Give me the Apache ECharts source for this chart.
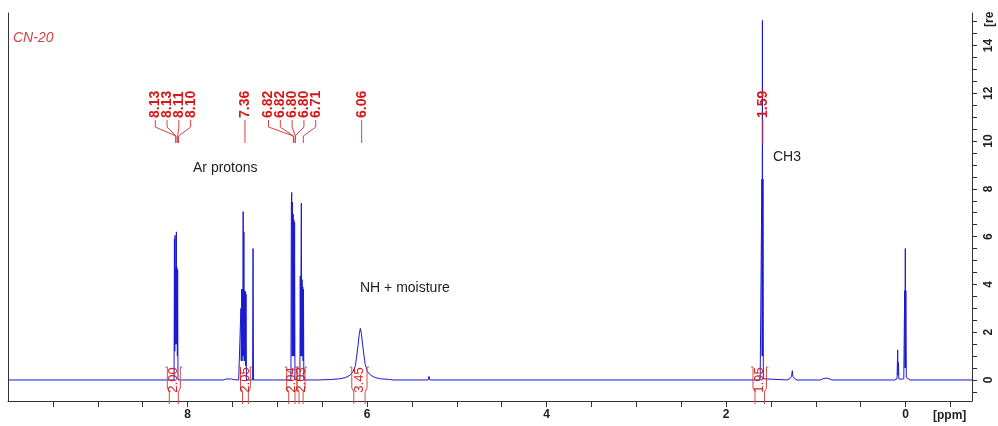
<!DOCTYPE html>
<html><head><meta charset="utf-8">
<script src="https://cdn.jsdelivr.net/npm/echarts@6/dist/echarts.min.js"></script>
<style>html,body{margin:0;padding:0;background:#fff}#c{width:998px;height:426px}</style>
</head><body><div id="c"></div>
<script>
// Spectrum points [ppm, intensity]
const spectrum = [
 [10.0,0],[9.2,0],[8.6,0],[8.37,0],[8.36,0.04],[8.35,0],
 [8.150,0],[8.146,5.9],[8.142,1.2],[8.139,6.05],[8.135,1.5],[8.131,4.7],[8.127,1.5],[8.124,6.2],[8.120,1.5],[8.117,4.7],[8.113,1.0],[8.110,4.6],[8.106,0],
 [7.95,0],[7.94,0.06],[7.93,0],
 [7.6,0],[7.57,0.04],[7.55,0.02],[7.51,0.04],[7.48,0.01],[7.43,0],
 [7.410,0],[7.405,3.0],[7.401,0.8],[7.396,3.8],[7.392,0.8],[7.388,3.8],[7.384,1.0],[7.380,7.05],[7.376,1.0],[7.372,6.2],[7.368,0.8],[7.364,3.75],[7.360,0.8],[7.356,3.7],[7.352,0.6],[7.348,3.6],[7.344,0],
 [7.275,0],[7.27,5.5],[7.265,0],
 [7.17,0],[7.16,0.05],[7.15,0],[7.03,0],[7.02,0.06],[7.01,0],
 [6.848,0],[6.843,7.3],[6.839,7.85],[6.835,1.0],[6.831,7.45],[6.827,1.0],[6.823,6.95],[6.819,1.0],[6.815,6.7],[6.811,1.0],[6.807,6.6],[6.803,0],
 [6.748,0],[6.744,4.35],[6.740,1.0],[6.736,4.3],[6.732,7.4],[6.728,1.0],[6.724,4.2],[6.720,1.0],[6.716,3.9],[6.712,0.8],[6.708,3.8],[6.704,0],
 [6.55,0],[6.48,0.01],[6.47,0.05],[6.46,0.01],
 [6.40,0.02],[6.30,0.05],[6.24,0.1],[6.19,0.2],[6.155,0.35],[6.13,0.6],[6.115,1.0],[6.10,1.45],[6.087,1.9],[6.075,2.16],[6.063,1.95],[6.05,1.5],[6.035,1.05],[6.02,0.65],[5.995,0.35],[5.96,0.2],[5.91,0.1],[5.85,0.05],[5.75,0.02],[5.7,0],
 [5.32,0],[5.31,0.15],[5.30,0],
 [4.18,0],[4.17,0.03],[4.16,0],[3.50,0],[3.49,0.03],[3.48,0],
 [1.62,0],[1.605,0.05],[1.601,8.4],[1.598,1.0],[1.595,15.05],[1.592,1.0],[1.589,8.4],[1.585,0.05],[1.57,0],
 [1.32,0],[1.29,0.05],[1.27,0.15],[1.262,0.39],[1.255,0.15],[1.235,0.05],[1.21,0],
 [0.95,0],[0.92,0.05],[0.90,0.1],[0.885,0.08],[0.87,0.1],[0.85,0.05],[0.82,0],
 [0.12,0],[0.095,0.05],[0.088,1.26],[0.084,0.2],[0.080,0.73],[0.075,0.05],[0.05,0.03],
 [0.02,0.05],[0.010,3.74],[0.006,0.5],[0.003,5.5],[0.0,0.5],[-0.003,3.74],[-0.008,0.1],[-0.02,0.03],[-0.05,0],
 [-0.13,0],[-0.14,0.06],[-0.15,0],[-0.74,0]
];
const peakPpm = [8.13,8.13,8.11,8.10,7.36,6.82,6.82,6.80,6.80,6.71,6.06,1.59];
const peakLabels = ['8.13','8.13','8.11','8.10','7.36','6.82','6.82','6.80','6.80','6.71','6.06','1.59'];
const integralStart = [8.225,7.41,6.895,6.78,6.17,1.70];
const integralEnd = [8.08,7.30,6.78,6.69,6.00,1.55];
const integralValues = ['2.00','2.05','2.04','2.03','3.45','1.95'];
const xTickValues = [-0.5,0,0.5,1,1.5,2,2.5,3,3.5,4,4.5,5,5.5,6,6.5,7,7.5,8,8.5,9,9.5];
const xLabelValues = [0,2,4,6,8];
const yTickValues = [-0.5,0,0.5,1,1.5,2,2.5,3,3.5,4,4.5,5,5.5,6,6.5,7,7.5,8,8.5,9,9.5,10,10.5,11,11.5,12,12.5,13,13.5,14,14.5,15];
const yLabelValues = [0,2,4,6,8,10,12,14];

const FONT = '"Liberation Sans", Arial, sans-serif';
const chart = echarts.init(document.getElementById('c'), null, {renderer:'canvas'});

function layoutLabels(api){
  const px = peakPpm.map(p => api.coord([p,0])[0]);
  const order = px.map((v,i)=>i).sort((a,b)=>px[a]-px[b] || a-b);
  const gap = 11.8;
  const pos = new Array(px.length);
  const groups = [];
  let cur = [order[0]];
  for (let k=1;k<order.length;k++){
    if (px[order[k]]-px[order[k-1]] < gap) cur.push(order[k]); else {groups.push(cur); cur=[order[k]];}
  }
  groups.push(cur);
  groups.forEach(g=>{
    const mean = g.reduce((s,i)=>s+px[i],0)/g.length;
    const shift = g.length > 1 ? -4 : 0;
    g.forEach((i,k)=>{ pos[i] = mean + shift + (k-(g.length-1)/2)*gap; });
  });
  return {px,pos};
}

chart.setOption({
  animation:false,
  backgroundColor:'#ffffff',
  grid:{left:8,right:26,top:13,bottom:25,containLabel:false},
  xAxis:{
    type:'value', inverse:true, min:-0.74, max:10.0,
    axisLine:{show:true,onZero:false,lineStyle:{color:'#333',width:1}},
    axisTick:{show:true,inside:false,length:6,customValues:xTickValues,lineStyle:{color:'#333'}},
    axisLabel:{customValues:xLabelValues,margin:8,color:'#222',fontWeight:'bold',fontSize:12,fontFamily:FONT},
    splitLine:{show:false}
  },
  yAxis:[{
    type:'value', position:'right', min:-0.88, max:15.36,
    axisLine:{show:true,onZero:false,lineStyle:{color:'#333',width:1}},
    axisTick:{show:true,inside:false,length:5,customValues:yTickValues,lineStyle:{color:'#333'}},
    axisLabel:{customValues:yLabelValues,rotate:90,margin:11,color:'#222',fontWeight:'bold',fontSize:12,fontFamily:FONT},
    splitLine:{show:false}
  },{
    type:'value', position:'left', min:-0.88, max:15.36,
    axisLine:{show:true,onZero:false,lineStyle:{color:'#333',width:1}},
    axisTick:{show:false}, axisLabel:{show:false}, splitLine:{show:false}
  }],
  series:[
    {
      type:'line', data:spectrum, yAxisIndex:0, showSymbol:false, symbol:'none', sampling:null,
      lineStyle:{color:'#1a1ad0',width:1}, z:2, silent:true
    },
    {
      type:'custom', yAxisIndex:0, z:5, silent:true,
      data: peakPpm.map((p,i)=>[p,0,i]),
      renderItem:function(params,api){
        const i = params.dataIndex;
        const L = layoutLabels(api);
        const lx = L.pos[i], px = L.px[i];
        return {type:'group',children:[
          {type:'polyline',shape:{points:[[lx,120],[lx,127],[px,136],[px,143]]},style:{stroke:'#d84040',lineWidth:1,fill:null}},
          {type:'text',x:lx,y:118,rotation:Math.PI/2,style:{text:peakLabels[i],fill:'#d81818',font:'bold 14px '+FONT,align:'left',verticalAlign:'middle'}}
        ]};
      }
    },
    {
      type:'custom', yAxisIndex:0, z:4, silent:true,
      data: integralStart.map((s,i)=>[s,0,i]),
      renderItem:function(params,api){
        const i = params.dataIndex;
        const x1 = api.coord([integralStart[i],0])[0];
        const x2 = api.coord([integralEnd[i],0])[0];
        const yT=367, yK=388, yB=404;
        const st = {stroke:'#d84a4a',lineWidth:1,fill:null};
        return {type:'group',children:[
          {type:'polyline',shape:{points:[[x1-2,yT],[x1,yT],[x1,yK],[x1+2,yK+4],[x1+2,yB]]},style:st},
          {type:'polyline',shape:{points:[[x2+2,yT],[x2,yT],[x2,yK],[x2-2,yK+4],[x2-2,yB]]},style:st},
          {type:'text',x:(x1+x2)/2,y:380,rotation:Math.PI/2,style:{text:integralValues[i],fill:'#d82020',font:'13px '+FONT,align:'center',verticalAlign:'middle'}}
        ]};
      }
    }
  ],
  graphic:[
    {type:'text',x:13,y:38,style:{text:'CN-20',fill:'#cc4444',font:'italic 14px '+FONT,verticalAlign:'middle'}},
    {type:'text',x:193,y:168,style:{text:'Ar protons',fill:'#222',font:'14px '+FONT,verticalAlign:'middle'}},
    {type:'text',x:360,y:288,style:{text:'NH + moisture',fill:'#222',font:'14px '+FONT,verticalAlign:'middle'}},
    {type:'text',x:773,y:157,style:{text:'CH3',fill:'#222',font:'14px '+FONT,verticalAlign:'middle'}},
    {type:'text',x:933,y:416,style:{text:'[ppm]',fill:'#222',font:'bold 12px '+FONT,verticalAlign:'middle'}},
    {type:'text',x:990,y:27,rotation:Math.PI/2,style:{text:'[re',fill:'#222',font:'bold 12px '+FONT,align:'left',verticalAlign:'middle'}}
  ]
});
</script></body></html>
